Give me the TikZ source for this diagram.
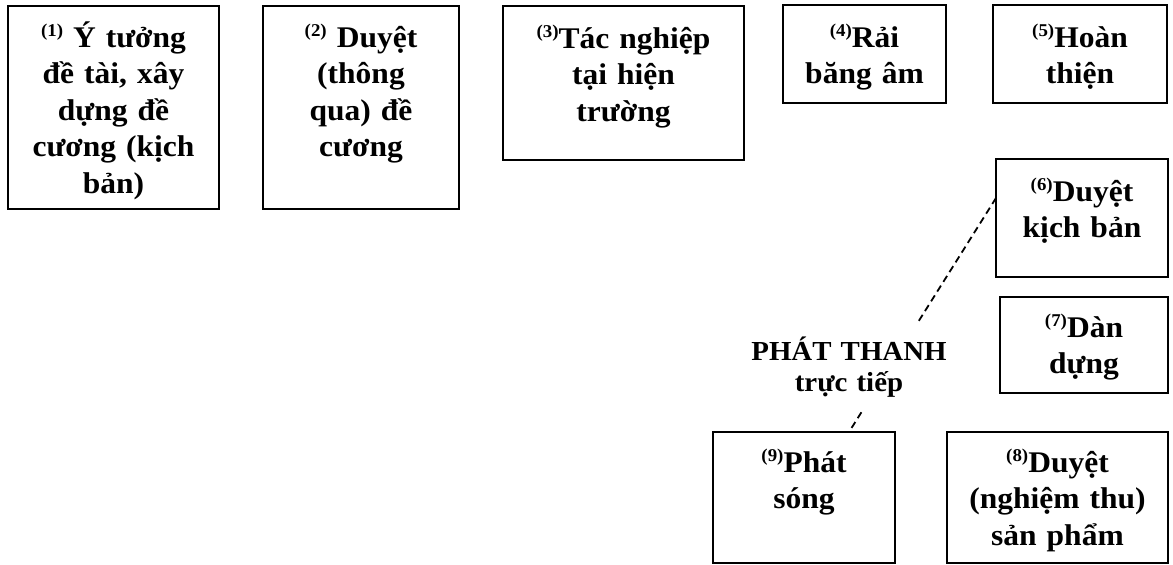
\documentclass[tikz,border=0pt]{standalone}
\usepackage{fontspec}
\setmainfont{Liberation Serif}[FakeStretch=1.05]
\newcommand\supn[1]{\raisebox{10.5pt}{\fontsize{18}{18}\selectfont(#1)}}
\begin{document}
\begin{tikzpicture}[x=1pt,y=-1pt,
  box/.style={draw=black, line width=1.8pt, rectangle, inner sep=0pt, outer sep=0pt},
  txt/.style={anchor=base, align=center, inner sep=0pt, font=\fontsize{30}{36.5}\selectfont\bfseries, text=black},
  lab/.style={anchor=base, align=center, fill=white, inner xsep=4pt, inner ysep=12pt, font=\fontsize{27.5}{31}\selectfont\bfseries, text=black},
  conn/.style={draw=black, line width=1.8pt, dash pattern=on 7pt off 4.5pt}]
\useasboundingbox[fill=white] (0,0) rectangle (1173,565);

% boxes
\node[box, minimum width=211pt, minimum height=203pt] (b1) at (113.5,107.5) {};
\node[box, minimum width=196pt, minimum height=203pt] (b2) at (361,107.5) {};
\node[box, minimum width=241pt, minimum height=154pt] (b3) at (623.5,83) {};
\node[box, minimum width=163pt, minimum height=98pt] (b4) at (864.5,54) {};
\node[box, minimum width=174pt, minimum height=98pt] (b5) at (1080,54) {};
\node[box, minimum width=172pt, minimum height=118pt] (b6) at (1082,218) {};
\node[box, minimum width=168pt, minimum height=96pt] (b7) at (1084,345) {};
\node[box, minimum width=221pt, minimum height=131pt] (b8) at (1057.5,497.5) {};
\node[box, minimum width=182pt, minimum height=131pt] (b9) at (804,497.5) {};

% texts
\node[txt, text width=211pt] (t1) at (113.5,47) {\supn{1} Ý tưởng\\đề tài, xây\\dựng đề\\cương (kịch\\bản)};
\node[txt, text width=196pt] (t2) at (361,47) {\supn{2} Duyệt\\(thông\\qua) đề\\cương};
\node[txt, text width=241pt] (t3) at (623.5,48) {\supn{3}Tác nghiệp\\tại hiện\\trường};
\node[txt, text width=163pt] (t4) at (864.5,47) {\supn{4}Rải\\băng âm};
\node[txt, text width=174pt] (t5) at (1080,47) {\supn{5}Hoàn\\thiện};
\node[txt, text width=172pt] (t6) at (1082,201) {\supn{6}Duyệt\\kịch bản};
\node[txt, text width=168pt] (t7) at (1084,337) {\supn{7}Dàn\\dựng};
\node[txt, text width=221pt] (t8) at (1057.5,472) {\supn{8}Duyệt\\(nghiệm thu)\\sản phẩm};
\node[txt, text width=182pt] (t9) at (804,472) {\supn{9}Phát\\sóng};

% dashed connector
\coordinate (p6) at ([yshift=20pt]b6.west);
\coordinate (p9) at ([xshift=45pt]b9.north);
\draw[conn] (p6) -- (p9);
\node[lab, text width=215pt] (live) at (849,360) {PHÁT THANH\\trực tiếp};
\end{tikzpicture}
\end{document}
